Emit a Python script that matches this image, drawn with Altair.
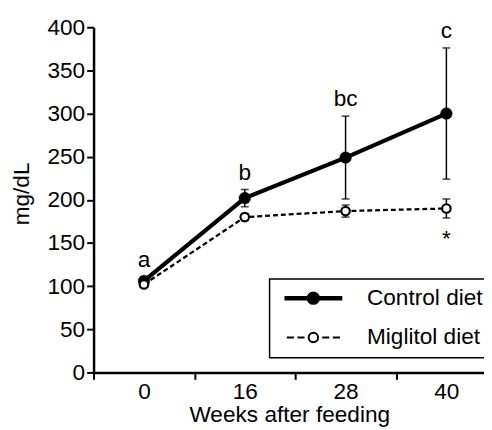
import altair as alt
import pandas as pd

weeks = ["0", "16", "28", "40"]
diets = ["Control diet", "Miglitol diet"]
control_mean = [106, 202, 249, 300]
control_sd = [5, 10, 48, 76]
miglitol_mean = [102, 180, 187, 190]
miglitol_sd = [3, 4, 7, 11]
control_letters = ["a", "b", "bc", "c"]
miglitol_marks = ["", "", "", "*"]
y_ticks = [0, 50, 100, 150, 200, 250, 300, 350, 400]

rows = []
for i, w in enumerate(weeks):
    rows.append(dict(diet=diets[0], week=w, mean=control_mean[i], sd=control_sd[i], label=control_letters[i]))
    rows.append(dict(diet=diets[1], week=w, mean=miglitol_mean[i], sd=miglitol_sd[i], label=miglitol_marks[i]))
df = pd.DataFrame(rows)
df["lo"] = df["mean"] - df["sd"]
df["hi"] = df["mean"] + df["sd"]

FONT = "Liberation Sans"
FS = 23

x_enc = alt.X(
    "week:O",
    sort=weeks,
    scale=alt.Scale(domain=weeks, range=[0, 410], paddingInner=0, paddingOuter=0),
    axis=alt.Axis(
        title="Weeks after feeding",
        labelAngle=0,
        tickBand="extent",
        tickSize=7,
        labelPadding=1,
        titleX=199,
        titleY=50,
        titleBaseline="alphabetic",
        titleAnchor="middle",
    ),
)
y_axis = alt.Axis(
    title="mg/dL",
    values=y_ticks,
    tickSize=7,
    labelPadding=2,
    titleX=-73,
    titleY=169,
    titleAngle=270,
    titleAlign="center",
    titleBaseline="middle",
)
y_scale = alt.Scale(domain=[0, 400], nice=False, zero=True)

def Y(field):
    return alt.Y(field, scale=y_scale, axis=y_axis)

base = alt.Chart(df)

ctrl = alt.datum.diet == diets[0]
migl = alt.datum.diet == diets[1]

line_m = base.transform_filter(migl).mark_line(
    color="black", strokeWidth=2.3, strokeDash=[5, 3]
).encode(x=x_enc, y=Y("mean:Q"))
line_c = base.transform_filter(ctrl).mark_line(
    color="black", strokeWidth=4.2
).encode(x=x_enc, y=Y("mean:Q"))

err_rule = base.mark_rule(color="black", strokeWidth=1.5).encode(
    x=x_enc, y=Y("lo:Q"), y2="hi:Q"
)
err_lo = base.mark_tick(color="black", size=8, thickness=1.6).encode(x=x_enc, y=Y("lo:Q"))
err_hi = base.mark_tick(color="black", size=8, thickness=1.6).encode(x=x_enc, y=Y("hi:Q"))

pts_c = base.transform_filter(ctrl).mark_point(
    shape="circle", size=140, stroke="black", fill="black", strokeWidth=0.5, opacity=1, fillOpacity=1
).encode(x=x_enc, y=Y("mean:Q"))
pts_m = base.transform_filter(migl).mark_point(
    shape="circle", size=75, stroke="black", fill="white", strokeWidth=2.2, opacity=1, fillOpacity=1
).encode(x=x_enc, y=Y("mean:Q"))

txt_c = base.transform_filter(ctrl).mark_text(
    font=FONT, fontSize=FS, color="black", baseline="alphabetic", dy=-10
).encode(x=x_enc, y=Y("hi:Q"), text="label:N")
txt_m = base.transform_filter(migl).mark_text(
    font=FONT, fontSize=FS, color="black", baseline="alphabetic", dy=29
).encode(x=x_enc, y=Y("lo:Q"), text="label:N")

# legend symbols: line + marker drawn as custom paths
sym_c = "M-4.9,0H4.9M-0.75,0A0.75,0.75,0,1,0,0.75,0A0.75,0.75,0,1,0,-0.75,0Z"
sym_m = ("M-4.5,0H-3.3M-2.7,0H-1.5M1.5,0H2.7M3.3,0H4.5"
         "M-0.8,0A0.8,0.8,0,1,0,0.8,0A0.8,0.8,0,1,0,-0.8,0Z")

leg = alt.Legend(
    title=None,
    orient="none",
    legendX=179,
    legendY=256,
    padding=8,
    rowPadding=15,
    symbolOffset=25,
    labelOffset=43,
    labelFont=FONT,
    labelFontSize=FS,
    labelColor="black",
    labelLimit=400,
    labelExpr="datum.label + '      '",
    strokeColor="black",
    fillColor="white",
    symbolSize=144,
)

legend_layer = base.transform_filter("false").mark_point(
    color="black", size=144, opacity=1, fillOpacity=1
).encode(
    x=x_enc,
    y=Y("mean:Q"),
    fill=alt.Fill("diet:N", scale=alt.Scale(domain=diets, range=["black", "white"]), legend=leg),
    shape=alt.Shape("diet:N", scale=alt.Scale(domain=diets, range=[sym_c, sym_m]), legend=leg),
    strokeWidth=alt.StrokeWidth("diet:N", scale=alt.Scale(domain=diets, range=[4.5, 2]), legend=leg),
)

chart = alt.layer(
    line_m, line_c, err_rule, err_lo, err_hi, pts_c, pts_m, txt_c, txt_m, legend_layer
).properties(
    width=397,
    height=351,
    autosize=alt.AutoSizeParams(type="none"),
    padding={"left": 87, "top": 16, "right": 0, "bottom": 57},
).configure_view(
    stroke=None
).configure_legend(
    strokeWidth=1.5
).configure_axis(
    grid=False,
    domainColor="black",
    domainWidth=2.5,
    tickColor="black",
    tickWidth=2,
    labelColor="black",
    titleColor="black",
    labelFont=FONT,
    titleFont=FONT,
    labelFontSize=FS,
    titleFontSize=FS,
    titleFontWeight="normal",
)

chart.save("out.html", embed_options={"renderer": "svg", "actions": False})
